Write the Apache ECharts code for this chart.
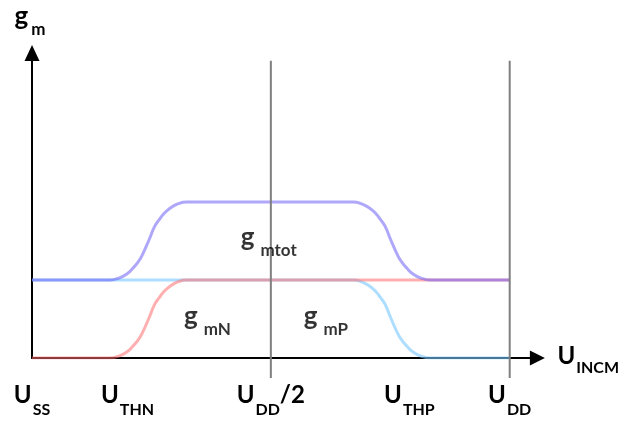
<!DOCTYPE html>
<html>
<head>
<meta charset="utf-8">
<script src="https://cdn.jsdelivr.net/npm/echarts@6/dist/echarts.min.js"></script>
<style>
  html, body { margin: 0; padding: 0; background: #ffffff; }
  #chart { width: 622px; height: 421px; }
</style>
</head>
<body>
<div id="chart"></div>
<script>
// ---- data (x in units of U_DD, y in units of one transistor's gm) ----
const tickValues = [0, 0.2, 0.5, 0.79, 1];
const tickLabels = ['{u|U}{s|SS}', '{u|U}{s|THN}', '{u|U}{s|DD}{u|/2}', '{u|U}{s|THP}', '{u|U}{s|DD}'];

const gmN = [[0, 0], [0.163, 0], [0.182, 0.025], [0.199, 0.08], [0.211, 0.15], [0.222, 0.23], [0.230, 0.31],
  [0.244, 0.5], [0.257, 0.69], [0.266, 0.77], [0.276, 0.85], [0.289, 0.92], [0.305, 0.975], [0.324, 1], [1, 1]];
const gmP = [[0, 1], [0.672, 1], [0.690, 0.975], [0.707, 0.92], [0.720, 0.85], [0.730, 0.77], [0.739, 0.69],
  [0.752, 0.5], [0.766, 0.31], [0.774, 0.23], [0.785, 0.15], [0.797, 0.08], [0.814, 0.025], [0.833, 0], [1, 0]];
const gmTot = [[0, 1], [0.163, 1], [0.182, 1.025], [0.199, 1.08], [0.211, 1.15], [0.222, 1.23], [0.230, 1.31],
  [0.244, 1.5], [0.257, 1.69], [0.266, 1.77], [0.276, 1.85], [0.289, 1.92], [0.305, 1.975], [0.324, 2],
  [0.672, 2], [0.690, 1.975], [0.707, 1.92], [0.720, 1.85], [0.730, 1.77], [0.739, 1.69],
  [0.752, 1.5], [0.766, 1.31], [0.774, 1.23], [0.785, 1.15], [0.797, 1.08], [0.814, 1.025], [0.833, 1], [1, 1]];

const guideX = [0.5, 1];
const guideBottom = -0.256;
const guideTop = 3.81;

const curveLabels = [
  { name: '{g|g}{s|mtot}', value: [0.437, 1.487] },
  { name: '{g|g}{s|mN}', value: [0.318, 0.474] },
  { name: '{g|g}{s|mP}', value: [0.569, 0.474] }
];

const xMax = 1.058;
const yMax = 3.91;

// ---- chart ----
const FONT = 'Lato';
const uRich = {
  u: { fontFamily: FONT, fontWeight: 'bold', fontSize: 24, color: '#000', verticalAlign: 'top' },
  s: { fontFamily: FONT, fontWeight: 'bold', fontSize: 16, color: '#000', verticalAlign: 'bottom', lineHeight: 35, padding: [0, 0, 0, 1] }
};
const nameRich = {
  u: uRich.u,
  s: Object.assign({}, uRich.s, { lineHeight: 31 })
};
const gRich = {
  g: { fontFamily: FONT, fontWeight: 'bold', fontSize: 26, color: '#000', verticalAlign: 'top' },
  s: { fontFamily: FONT, fontWeight: 'bold', fontSize: 17, color: '#000', verticalAlign: 'bottom', lineHeight: 34, padding: [0, 0, 0, 6] }
};
const gmRich = {
  g: gRich.g,
  s: Object.assign({}, gRich.s, { padding: [0, 0, 0, 3] })
};

const chart = echarts.init(document.getElementById('chart'), null, { renderer: 'canvas' });

const guideSeries = guideX.map(function (gx) {
  return {
    type: 'line',
    data: [[gx, guideBottom], [gx, guideTop]],
    symbol: 'none',
    clip: false,
    silent: true,
    z: 5,
    lineStyle: { color: '#7f7f7f', width: 2 }
  };
});

chart.setOption({
  animation: false,
  backgroundColor: '#ffffff',
  grid: { left: 32, right: 84, top: 53, bottom: 63 },
  xAxis: {
    type: 'value',
    min: 0,
    max: xMax,
    name: '{u|U}{s|INCM}',
    nameLocation: 'end',
    nameGap: 20,
    nameTextStyle: { rich: nameRich, padding: [4, 0, 0, 0] },
    axisLine: {
      show: true,
      onZero: false,
      symbol: ['none', 'triangle'],
      symbolSize: [15, 15],
      lineStyle: { color: '#000', width: 2 }
    },
    axisTick: { show: false },
    splitLine: { show: false },
    axisLabel: {
      show: true,
      customValues: tickValues,
      margin: 25,
      rich: uRich,
      formatter: function (v) {
        const i = tickValues.indexOf(v);
        return i >= 0 ? tickLabels[i] : '';
      }
    }
  },
  yAxis: {
    type: 'value',
    min: 0,
    max: yMax,
    name: '{g|g}{s|m}',
    nameLocation: 'end',
    nameGap: 15,
    nameTextStyle: { rich: gmRich, align: 'center', padding: [0, 4, 0, 0] },
    axisLine: {
      show: true,
      onZero: false,
      symbol: ['none', 'triangle'],
      symbolSize: [15, 16],
      lineStyle: { color: '#000', width: 2 }
    },
    axisTick: { show: false },
    axisLabel: { show: false },
    splitLine: { show: false }
  },
  series: [
    {
      name: 'gmP',
      type: 'line',
      data: gmP,
      symbol: 'none',
      smooth: 0.5,
      z: 2,
      lineStyle: { color: 'rgba(120,200,255,0.6)', width: 3 }
    },
    {
      name: 'gmN',
      type: 'line',
      data: gmN,
      symbol: 'none',
      smooth: 0.5,
      z: 3,
      lineStyle: { color: 'rgba(255,110,110,0.55)', width: 3 }
    },
    {
      name: 'gmtot',
      type: 'line',
      data: gmTot,
      symbol: 'none',
      smooth: 0.5,
      z: 4,
      lineStyle: { color: 'rgba(110,95,245,0.55)', width: 3 }
    }
  ].concat(guideSeries).concat([
    {
      type: 'scatter',
      data: curveLabels,
      symbolSize: 0,
      silent: true,
      z: 6,
      label: {
        show: true,
        position: 'right',
        distance: 0,
        rich: gRich,
        formatter: function (p) { return p.name; }
      }
    }
  ])
});
</script>
</body>
</html>
